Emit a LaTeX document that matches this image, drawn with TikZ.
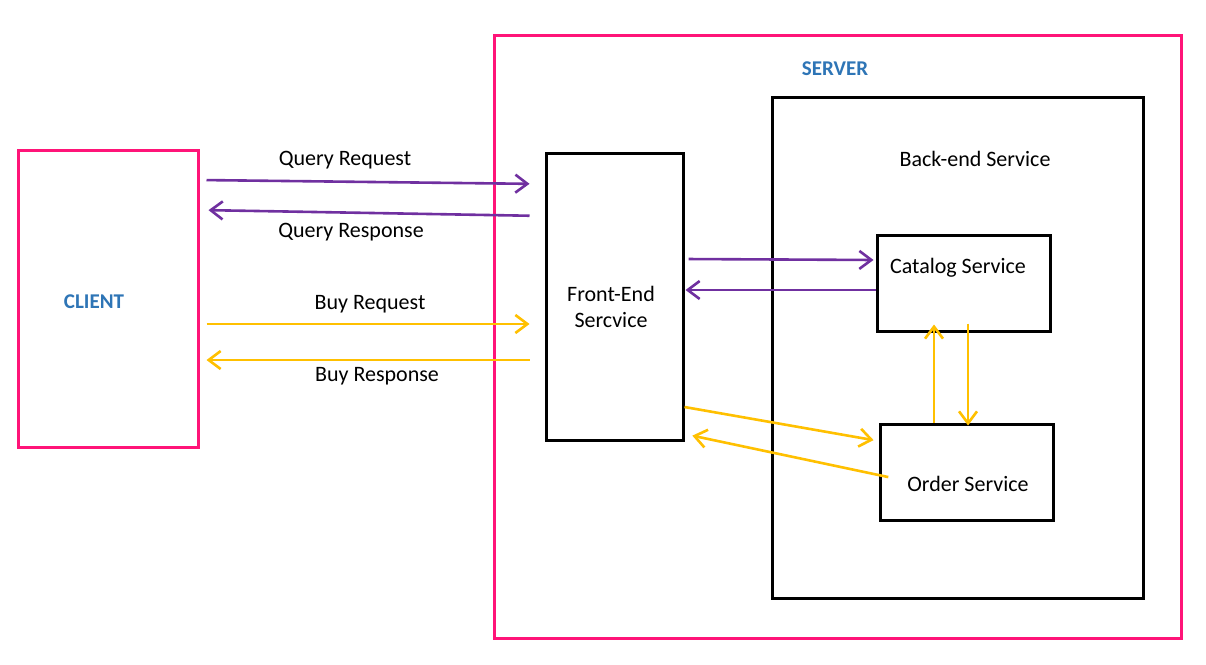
\documentclass[tikz,border=0pt]{standalone}
\usepackage{fontspec}
\setmainfont{Carlito}
\usetikzlibrary{arrows.meta}
\definecolor{boxpink}{RGB}{255,20,120}
\definecolor{qpurple}{RGB}{112,48,160}
\definecolor{byellow}{RGB}{255,192,0}
\definecolor{lblblue}{RGB}{46,117,182}
\begin{document}
\begin{tikzpicture}[x=1pt,y=-1pt,
  pinkbox/.style={draw=boxpink,line width=3pt,inner sep=0pt},
  blackbox/.style={draw=black,line width=3pt,inner sep=0pt},
  txt/.style={font=\fontsize{22}{26}\selectfont,inner sep=0pt,text=black},
  head/.style={font=\fontsize{21}{25}\selectfont\bfseries,inner sep=0pt,text=lblblue},
  qa/.style={draw=qpurple,line width=2.6pt,-{Straight Barb[length=12pt,width=18pt,line width=2.6pt]}},
  ba/.style={draw=byellow,line width=2.6pt,-{Straight Barb[length=12pt,width=18pt,line width=2.6pt]}}
]
\useasboundingbox[fill=white] (0,0) rectangle (1206,664);
% boxes
\node[pinkbox,minimum width=180pt,minimum height=297pt] (client) at (108,298.5) {};
\node[pinkbox,minimum width=687pt,minimum height=603pt] (server) at (837.5,336.5) {};
\node[blackbox,minimum width=371pt,minimum height=501pt] (backend) at (957.5,347.5) {};
\node[blackbox,minimum width=137pt,minimum height=287pt] (fe) at (614.5,296.5) {};
\node[blackbox,minimum width=173pt,minimum height=96pt] (cat) at (963.5,283) {};
\node[blackbox,minimum width=173pt,minimum height=96pt] (ord) at (966.5,472) {};
% labels
\node[head] (clientlbl) at (94,302) {CLIENT};
\node[head] (serverlbl) at (835,69) {SERVER};
\node[txt] (belbl) at (975,159) {Back-end Service};
\node[txt,align=center] (felbl) at (611,307) {Front-End\\Sercvice};
\node[txt] (catlbl) at (958,268) {Catalog Service};
\node[txt] (ordlbl) at (968,484) {Order Service};
\node[txt] (qreq) at (345,160) {Query Request};
\node[txt] (qres) at (351,232) {Query Response};
\node[txt] (breq) at (370,304) {Buy Request};
\node[txt] (bres) at (377,376) {Buy Response};
% client <-> front end
\draw[qa,shorten <=7pt,shorten >=15pt] (client.east |- 0,180) -- (fe.west |- 0,184);
\draw[qa,shorten <=15pt,shorten >=9pt] (fe.west |- 0,216) -- (client.east |- 0,210);
\draw[ba,shorten <=7pt,shorten >=15pt] (client.east |- 0,324) -- (fe.west |- 0,324);
\draw[ba,shorten <=15pt,shorten >=7pt] (fe.west |- 0,360) -- (client.east |- 0,360);
% front end <-> catalog
\draw[qa,shorten <=4pt,shorten >=2pt] (fe.east |- 0,259) -- (cat.west |- 0,260);
\draw[qa,shorten >=1pt] (cat.west |- 0,290) -- (fe.east |- 0,290);
% catalog <-> order
\draw[ba,shorten >=-8pt] (ord.north -| 934,0) -- (cat.south -| 934,0);
\draw[ba,shorten <=-9pt,shorten >=-3pt] (cat.south -| 968,0) -- (ord.north -| 968,0);
% front end <-> order
\draw[ba,shorten >=5pt] (fe.east |- 0,407) -- (ord.west |- 0,441);
\draw[ba,shorten <=-10pt,shorten >=8pt] (ord.west |- 0,475) -- (fe.east |- 0,434);
\end{tikzpicture}
\end{document}
